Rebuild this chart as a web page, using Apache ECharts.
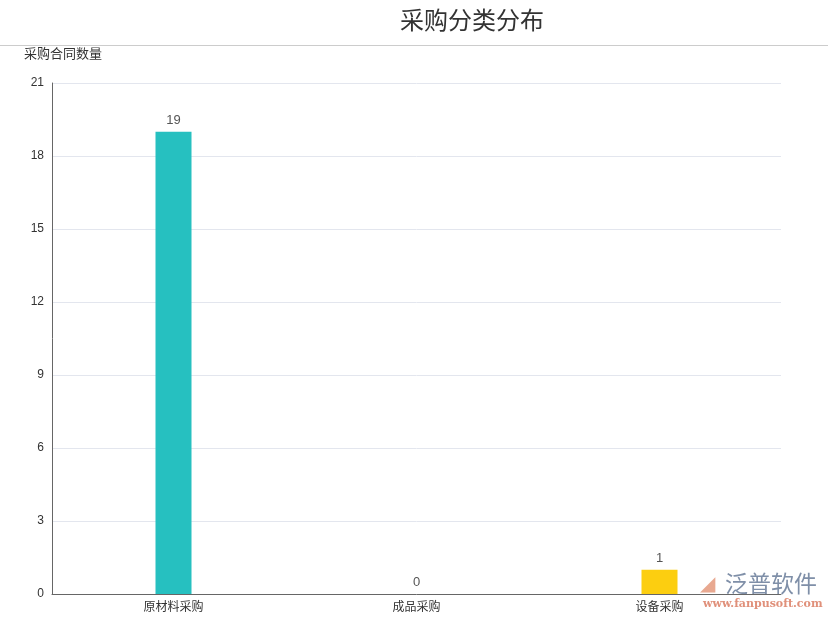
<!DOCTYPE html>
<html><head><meta charset="utf-8">
<script src="https://cdn.jsdelivr.net/npm/echarts@6/dist/echarts.min.js"></script>
<style>html,body{margin:0;padding:0;background:#fff}#c{width:828px;height:621px}</style>
</head><body><div id="c"></div>
<script>
var categories = ['原材料采购', '成品采购', '设备采购'];
var values = [19, 0, 1];
var barColors = ['#26C0C0', '#5AB1EF', '#FCCE10'];
var yTicks = {min: 0, max: 21, interval: 3};

var chart = echarts.init(document.getElementById('c'));
chart.setOption({
  animation: false,
  title: {text: '采购分类分布', left: 395, top: 3,
    textStyle: {fontSize: 24, fontWeight: 'normal', color: '#333', fontFamily: 'Noto Sans CJK SC'}},
  graphic: [
    {type: 'line', shape: {x1: 0, y1: 45.5, x2: 828, y2: 45.5}, style: {stroke: '#ccc', lineWidth: 1}},
    {type: 'text', left: 24, top: 47, style: {text: '采购合同数量', fontSize: 13, fill: '#333', fontFamily: 'Noto Sans CJK SC'}},
    {type: 'text', left: 725, top: 572, style: {text: '泛普软件', fontSize: 23, fill: '#7f8fa8', fontFamily: 'Noto Sans CJK SC'}},
    {type: 'text', left: 703, top: 599, style: {text: 'www.fanpusoft.com', fontSize: 11, fill: '#e0907a', fontFamily: 'DejaVu Serif', fontWeight: 'bold'}},
    {type: 'text', left: 700, top: 574, style: {text: '◢', fontSize: 20, fill: '#e8a890'}}
  ],
  grid: {left: 52, right: 47, top: 83, bottom: 27},
  xAxis: {type: 'category', data: categories,
    axisLine: {lineStyle: {color: '#666'}},
    axisTick: {lineStyle: {color: '#666'}},
    axisLabel: {color: '#333', fontSize: 12, fontFamily: 'Noto Sans CJK SC', margin: 6}},
  yAxis: {type: 'value', min: yTicks.min, max: yTicks.max, interval: yTicks.interval,
    axisLine: {show: true, lineStyle: {color: '#666'}},
    axisTick: {show: false},
    axisLabel: {color: '#333', fontSize: 12, margin: 8},
    splitLine: {lineStyle: {color: '#e3e6ee'}}},
  series: [{
    type: 'bar', barWidth: 36,
    data: values.map(function (v, i) { return {value: v, itemStyle: {color: barColors[i]}}; }),
    label: {show: true, position: 'top', color: '#555', fontSize: 13, distance: 5}
  }]
});
</script></body></html>
